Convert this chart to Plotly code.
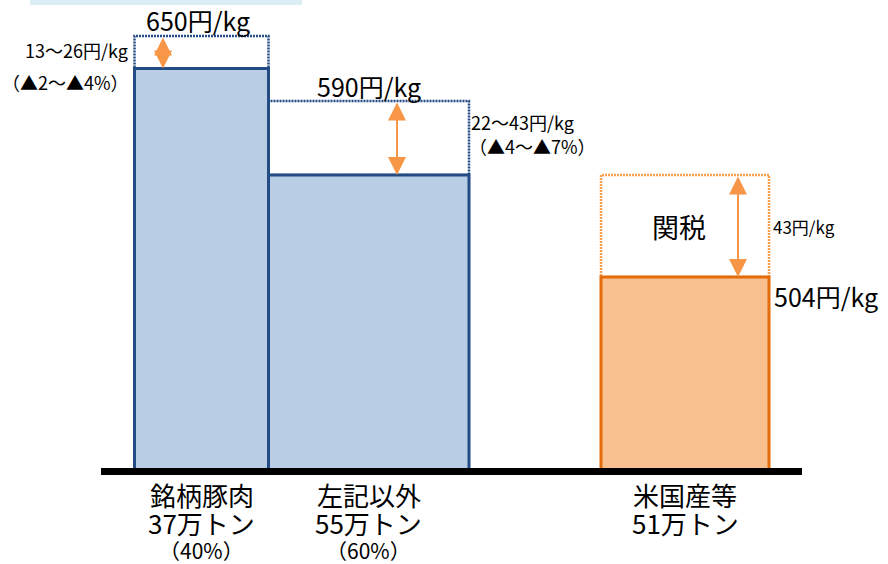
import plotly.graph_objects as go

# ---- data ----
categories = ["銘柄豚肉", "左記以外", "米国産等"]
volumes = ["37万トン", "55万トン", "51万トン"]
shares = ["（40%）", "（60%）", ""]
price_labels = ["650円/kg", "590円/kg", "504円/kg"]
gap_labels = ["13～26円/kg", "22～43円/kg", "43円/kg"]
gap_pct = ["（▲2～▲4%）", "（▲4～▲7%）", ""]
# schematic (not to scale) drawing heights of each bar and of its reference level
bar_height = [403.5, 297, 195]
ref_height = [436, 371, 297]

# ---- layout values (positions / styles) ----
bar_left = [134.5, 268.5, 601]
bar_right = [268.5, 469, 769]
fills = ["#b9cde5", "#b9cde5", "#f9c08f"]
edges = ["#234b84", "#234b84", "#e46c0a"]
dot_colors = ["#234b84", "#234b84", "#f7a04e"]
arrow_x = [163, 397, 738]
arrow_col = "#f79646"
FONT = "Noto Sans CJK JP"

centers = [(l + r) / 2 for l, r in zip(bar_left, bar_right)]
widths = [r - l for l, r in zip(bar_left, bar_right)]

fig = go.Figure()
fig.add_trace(go.Bar(
    x=centers, y=bar_height, width=widths, base=0,
    marker=dict(color=fills, line=dict(color=edges, width=3)),
    hoverinfo="skip", showlegend=False,
))

shapes = []
# dotted reference boxes
for i in range(3):
    shapes.append(dict(type="rect", xref="x", yref="y", layer="below",
                       x0=bar_left[i], x1=bar_right[i], y0=bar_height[i], y1=ref_height[i],
                       line=dict(color=dot_colors[i], width=2.5, dash="2px,1px"),
                       fillcolor="rgba(0,0,0,0)"))
# baseline
shapes.append(dict(type="line", xref="x", yref="y", layer="above",
                   x0=101, x1=802, y0=0.5, y1=0.5, line=dict(color="black", width=7)))
# top (cut-off) title box
shapes.append(dict(type="rect", xref="paper", yref="paper", layer="below",
                   x0=30 / 888, x1=302 / 888, y0=1 - 5 / 564, y1=1.01,
                   line=dict(width=0), fillcolor="#daeef3"))

ann = []
def txt(x, y, s, size, xa="center"):
    ann.append(dict(x=x, y=y, xref="x", yref="y", text=s, showarrow=False,
                    xanchor=xa, yanchor="middle",
                    font=dict(family=FONT, size=size, color="black")))

# arrows
for i in range(3):
    ann.append(dict(x=arrow_x[i], y=bar_height[i], ax=arrow_x[i], ay=ref_height[i],
                    xref="x", yref="y", axref="x", ayref="y", text="",
                    showarrow=True, arrowside="end+start", arrowhead=2,
                    arrowsize=1.8, arrowwidth=2, arrowcolor=arrow_col))

# price labels
txt(centers[0] - 4, ref_height[0] + 16, price_labels[0], 25)
txt(centers[1], ref_height[1] + 15, price_labels[1], 25)
txt(772, bar_height[2] - 19, price_labels[2], 25, "left")

# gap labels
txt(130, bar_height[0] + 19, gap_labels[0], 18, "right")
txt(131, bar_height[0] - 13, gap_pct[0], 18, "right")
mid1 = (bar_height[1] + ref_height[1]) / 2
txt(469, mid1 + 16, gap_labels[1], 18, "left")
txt(467, mid1 - 8, gap_pct[1], 18, "left")
mid2 = (bar_height[2] + ref_height[2]) / 2
txt(771, mid2, gap_labels[2], 17, "left")
txt(centers[2] - 6, mid2, "関税", 27)

# category labels
for i in range(3):
    txt(centers[i], -22, categories[i], 26)
    txt(centers[i], -50, volumes[i], 26)
    if shares[i]:
        txt(centers[i], -78, shares[i], 21)

fig.update_layout(
    width=888, height=564, margin=dict(l=0, r=0, t=0, b=0),
    paper_bgcolor="white", plot_bgcolor="white",
    xaxis=dict(range=[0, 888], visible=False, fixedrange=True),
    yaxis=dict(range=[-92, 472], visible=False, fixedrange=True),
    shapes=shapes, annotations=ann, barmode="overlay",
    font=dict(family=FONT),
)
fig.write_html("out.html")
